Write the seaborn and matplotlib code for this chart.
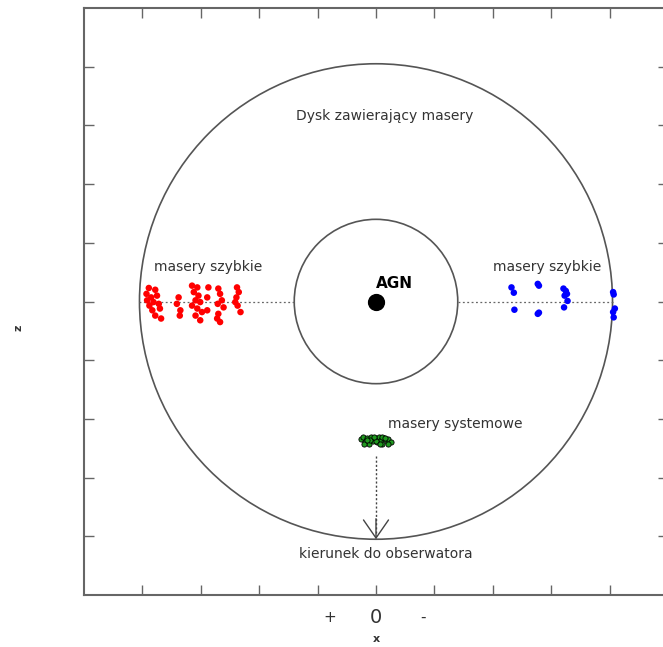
import numpy as np
import pandas as pd
import matplotlib.pyplot as plt
import seaborn as sns
from matplotlib.patches import Circle

sns.set_theme(style="ticks")
plt.rcParams['font.family'] = ['DejaVu Sans']

# disk geometry (data units)
outer_r = 4.05
inner_r = 1.4

# fast masers, red side (x, z)
red_x = [-3.89, -3.78, -3.93, -3.85, -3.75, -3.81, -3.88, -3.72, -3.83, -3.78, -3.68, -3.70, -3.92,
         -3.38, -3.41, -3.35, -3.36,
         -3.15, -3.06, -3.12, -3.04, -3.09, -3.01, -3.15, -3.06, -2.98, -2.89, -3.09, -3.01, -2.87, -2.89,
         -2.70, -2.67, -2.64, -2.71, -2.61, -2.70, -2.72, -2.67,
         -2.38, -2.35, -2.39, -2.41, -2.37, -2.32]
red_z = [0.23, 0.20, 0.13, 0.07, 0.10, -0.01, -0.07, -0.04, -0.15, -0.24, -0.29, -0.12, 0.02,
         0.07, -0.04, -0.15, -0.24,
         0.27, 0.24, 0.16, 0.10, 0.02, -0.01, -0.07, -0.12, -0.18, -0.15, -0.24, -0.32, 0.24, 0.07,
         0.22, 0.13, 0.02, -0.04, -0.10, -0.21, -0.29, -0.35,
         0.24, 0.16, 0.07, -0.01, -0.07, -0.18]

# fast masers, blue side
blue_x = [2.32, 2.36, 2.37, 2.77, 2.79, 2.77, 2.79, 3.21, 3.25, 3.27, 3.23, 3.28, 3.22,
          4.06, 4.07, 4.09, 4.06, 4.07]
blue_z = [0.24, 0.15, -0.14, 0.30, 0.27, -0.21, -0.19, 0.22, 0.18, 0.13, 0.10, 0.01, -0.10,
          0.16, 0.12, -0.12, -0.18, -0.27]

# systemic masers
sys_x = [-0.26, -0.22, -0.19, -0.15, -0.12, -0.08, -0.05, -0.02, 0.02, 0.05, 0.08, 0.11,
         0.14, 0.18, 0.21, 0.25, -0.20, -0.10, 0.00, 0.10, 0.20, -0.15, 0.07, -0.03, 0.16]
sys_z = [-2.35, -2.31, -2.39, -2.33, -2.42, -2.30, -2.37, -2.33, -2.40, -2.31, -2.36, -2.42,
         -2.32, -2.38, -2.34, -2.40, -2.43, -2.36, -2.37, -2.30, -2.42, -2.36, -2.43, -2.30, -2.33]

red = pd.DataFrame({'x': red_x, 'z': red_z})
blue = pd.DataFrame({'x': blue_x, 'z': blue_z})
syst = pd.DataFrame({'x': sys_x, 'z': sys_z})

fig = plt.figure(figsize=(6.63, 6.47), dpi=100)
ax = fig.add_axes([84 / 663, 52 / 647, 584 / 663, 587 / 647])

line_col = '#555555'
txt_col = '#333333'

ax.add_patch(Circle((0, 0), outer_r, fill=False, ec=line_col, lw=1.2))
ax.add_patch(Circle((0, 0), inner_r, fill=False, ec=line_col, lw=1.2))

# dotted line of sight through the disk plane
ax.plot([-outer_r, -inner_r], [0, 0], ls=(0, (1.5, 2)), color='#666666', lw=0.9)
ax.plot([inner_r, outer_r], [0, 0], ls=(0, (1.5, 2)), color='#666666', lw=0.9)

sns.scatterplot(data=red, x='x', y='z', color='red', s=22, edgecolor='none', ax=ax, zorder=3)
sns.scatterplot(data=blue, x='x', y='z', color='blue', s=22, edgecolor='none', ax=ax, zorder=3)
sns.scatterplot(data=syst, x='x', y='z', color='#1f9a1f', s=14, edgecolor='black',
                linewidth=0.6, ax=ax, zorder=3)

# central AGN
ax.scatter([0], [0], s=130, color='black', zorder=4)
ax.text(0.32, 0.3, 'AGN', fontsize=11, fontweight='bold', color='black', ha='center', va='center')

# arrow toward the observer
ax.plot([0, 0], [-2.63, -4.0], ls=(0, (1.5, 1.5)), color='#444444', lw=1.0)
ax.annotate('', xy=(0, -outer_r), xytext=(0, -3.7),
            arrowprops=dict(arrowstyle='->, head_length=0.65, head_width=0.45',
                            mutation_scale=20, color='#444444', lw=1.0, shrinkA=0, shrinkB=0))

ax.text(0.15, 3.16, 'Dysk zawierający masery', fontsize=10, color=txt_col, ha='center', va='center')
ax.text(-2.88, 0.58, 'masery szybkie', fontsize=10, color=txt_col, ha='center', va='center')
ax.text(2.93, 0.58, 'masery szybkie', fontsize=10, color=txt_col, ha='center', va='center')
ax.text(1.35, -2.09, 'masery systemowe', fontsize=10, color=txt_col, ha='center', va='center')
ax.text(0.17, -4.3, 'kierunek do obserwatora', fontsize=10, color=txt_col, ha='center', va='center')

ax.set_xlim(-5, 5)
ax.set_ylim(-5, 5)
ax.set_xticks(np.arange(-4, 5, 1))
ax.set_yticks(np.arange(-4, 5, 1))
ax.set_xticklabels([])
ax.set_yticklabels([])
ax.tick_params(direction='in', length=7, width=1, color='#666666',
               top=True, right=True, bottom=True, left=True)
for sp in ax.spines.values():
    sp.set_color('#666666')
    sp.set_linewidth(1.5)
ax.set_xlabel('')
ax.set_ylabel('')

xt = ax.get_xaxis_transform()
ax.text(-0.8, -0.038, '+', transform=xt, fontsize=11, color=txt_col, ha='center', va='center')
ax.text(0, -0.038, '0', transform=xt, fontsize=14, color=txt_col, ha='center', va='center')
ax.text(0.8, -0.038, '-', transform=xt, fontsize=11, color=txt_col, ha='center', va='center')
ax.text(0, -0.075, 'x', transform=xt, fontsize=8, fontweight='bold', color=txt_col,
        ha='center', va='center')
ax.text(-0.113, 0.455, 'z', transform=ax.transAxes, fontsize=8, fontweight='bold', color=txt_col,
        ha='center', va='center', rotation=90)

fig.savefig('out.png', dpi=100)
